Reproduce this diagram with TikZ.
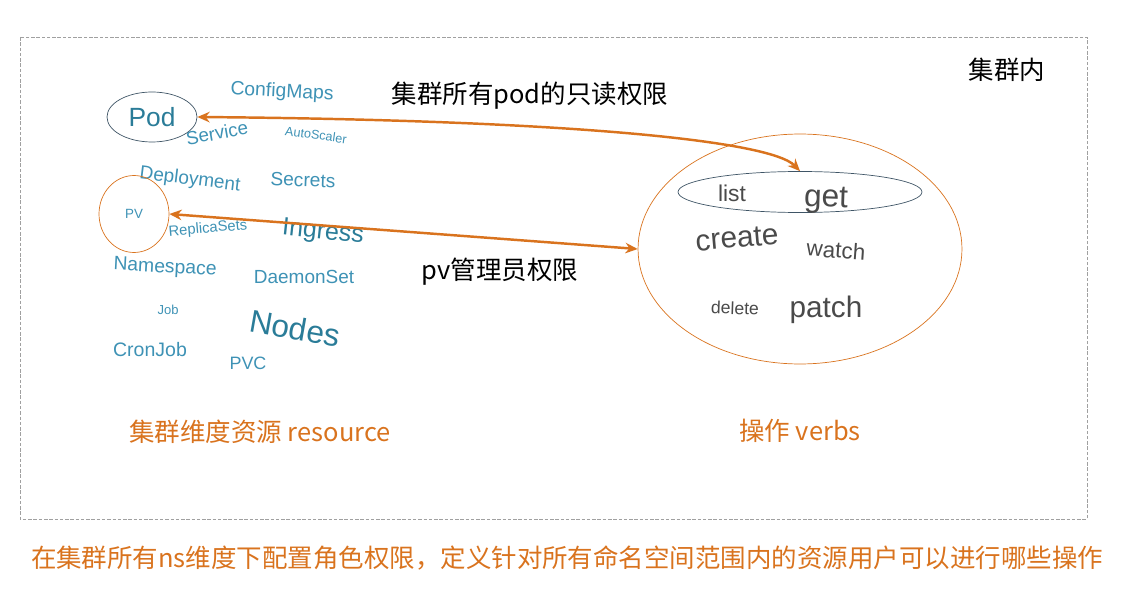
\documentclass[tikz,border=0pt]{standalone}
\usepackage{fontspec}
\setmainfont{Liberation Sans}
\newfontfamily\cjk{Noto Sans CJK SC}
\definecolor{RBACorange}{HTML}{D9731E}
\definecolor{RBACteal}{HTML}{3E92B5}
\definecolor{RBACdark}{HTML}{2A7C98}
\definecolor{RBACgray}{HTML}{4A4A4A}
\definecolor{RBACframe}{HTML}{A0A0A0}
\definecolor{RBACring}{HTML}{3F5566}
\usetikzlibrary{arrows.meta, shapes.geometric}

\begin{document}
\begin{tikzpicture}[x=0.02cm, y=-0.02cm,
   res/.style={text=RBACteal, inner sep=0pt},
   verb/.style={text=RBACgray, inner sep=0pt},
   label/.style={font=\cjk\fontsize{14.5pt}{16pt}\selectfont, inner sep=0pt},
   link/.style={RBACorange, line width=1.4pt, {Stealth[length=7pt,width=6pt]}-{Stealth[length=7pt,width=6pt]}}]
      \useasboundingbox (0,0) rectangle (1148,591);
      % Outer frame
      \draw[RBACframe, dash pattern=on 2pt off 1pt] (20,37) rectangle (1087,519);
      \node[label] (inside) at (1007,70) {集群内};
      % Resource cloud
      \node[res, font=\fontsize{11pt}{12pt}\selectfont, rotate=-3] (configmaps) at (282,92) {ConfigMaps};
      \node[draw=RBACring, ellipse, thin, minimum width=1.8cm, minimum height=1cm, inner sep=0pt,
         text=RBACdark, font=\fontsize{15pt}{16pt}\selectfont] (pod) at (152,117) {Pod};
      \node[res, font=\fontsize{10.7pt}{12pt}\selectfont, rotate=10] (service) at (217,133) {Service};
      \node[res, font=\fontsize{7.2pt}{8pt}\selectfont, rotate=-8] (autoscaler) at (316,135) {AutoScaler};
      \node[res, font=\fontsize{10.8pt}{12pt}\selectfont, rotate=-7] (deployment) at (190,180) {Deployment};
      \node[res, font=\fontsize{10.9pt}{12pt}\selectfont, rotate=-2] (secrets) at (303,180) {Secrets};
      \node[draw=RBACorange, ellipse, thin, minimum width=1.4cm, minimum height=1.54cm, inner sep=0pt,
         text=RBACteal, font=\fontsize{7.6pt}{8pt}\selectfont] (pv) at (134,214) {PV};
      \node[res, font=\fontsize{8.4pt}{9pt}\selectfont, rotate=5] (replicasets) at (208,229) {ReplicaSets};
      \node[res, text=RBACdark, font=\fontsize{14.2pt}{15pt}\selectfont, rotate=-6] (ingress) at (323,233) {Ingress};
      \node[res, font=\fontsize{11pt}{12pt}\selectfont, rotate=-3] (namespace) at (165,268) {Namespace};
      \node[res, font=\fontsize{10.8pt}{12pt}\selectfont] (daemonset) at (304,277) {DaemonSet};
      \node[res, font=\fontsize{7.4pt}{8pt}\selectfont] (job) at (168,310) {Job};
      \node[res, text=RBACdark, font=\fontsize{18pt}{19pt}\selectfont, rotate=-10] (nodes) at (295,328) {Nodes};
      \node[res, font=\fontsize{11.1pt}{12pt}\selectfont] (cronjob) at (150,350) {CronJob};
      \node[res, font=\fontsize{10.2pt}{11pt}\selectfont] (pvc) at (248,363) {PVC};
      \node[label, text=RBACorange] (reslabel) at (260,432) {集群维度资源 resource};
      % Verbs
      \node[draw=RBACorange, ellipse, thin, minimum width=6.48cm, minimum height=4.6cm] (verbs) at (800,249) {};
      \node[draw=RBACring, ellipse, thin, minimum width=4.88cm, minimum height=0.82cm] (readop) at (800,192) {};
      \node[verb, font=\fontsize{13pt}{14pt}\selectfont] (list) at (732,193) {list};
      \node[verb, font=\fontsize{18pt}{19pt}\selectfont, rotate=-2] (get) at (826,200) {get};
      \node[verb, font=\fontsize{17pt}{18pt}\selectfont, rotate=5] (create) at (737,238) {create};
      \node[verb, font=\fontsize{12.8pt}{14pt}\selectfont, rotate=-4] (watch) at (836,250) {watch};
      \node[verb, font=\fontsize{10pt}{11pt}\selectfont, rotate=-2] (delete) at (735,308) {delete};
      \node[verb, font=\fontsize{16.9pt}{18pt}\selectfont] (patch) at (826,310) {patch};
      \node[label, text=RBACorange] (verblabel) at (800,431) {操作 verbs};
      % Bindings
      \draw[link] (pod.east) .. controls (560,120) and (770,140) .. (readop.north);
      \node[label] (readlabel) at (530,96) {集群所有pod的只读权限};
      \draw[link] (pv.east) -- (verbs.west);
      \node[label] (pvlabel) at (500,272) {pv管理员权限};
      % Caption
      \node[label, text=RBACorange] (caption) at (567,558) {在集群所有ns维度下配置角色权限，定义针对所有命名空间范围内的资源用户可以进行哪些操作};
   \end{tikzpicture}
\end{document}
